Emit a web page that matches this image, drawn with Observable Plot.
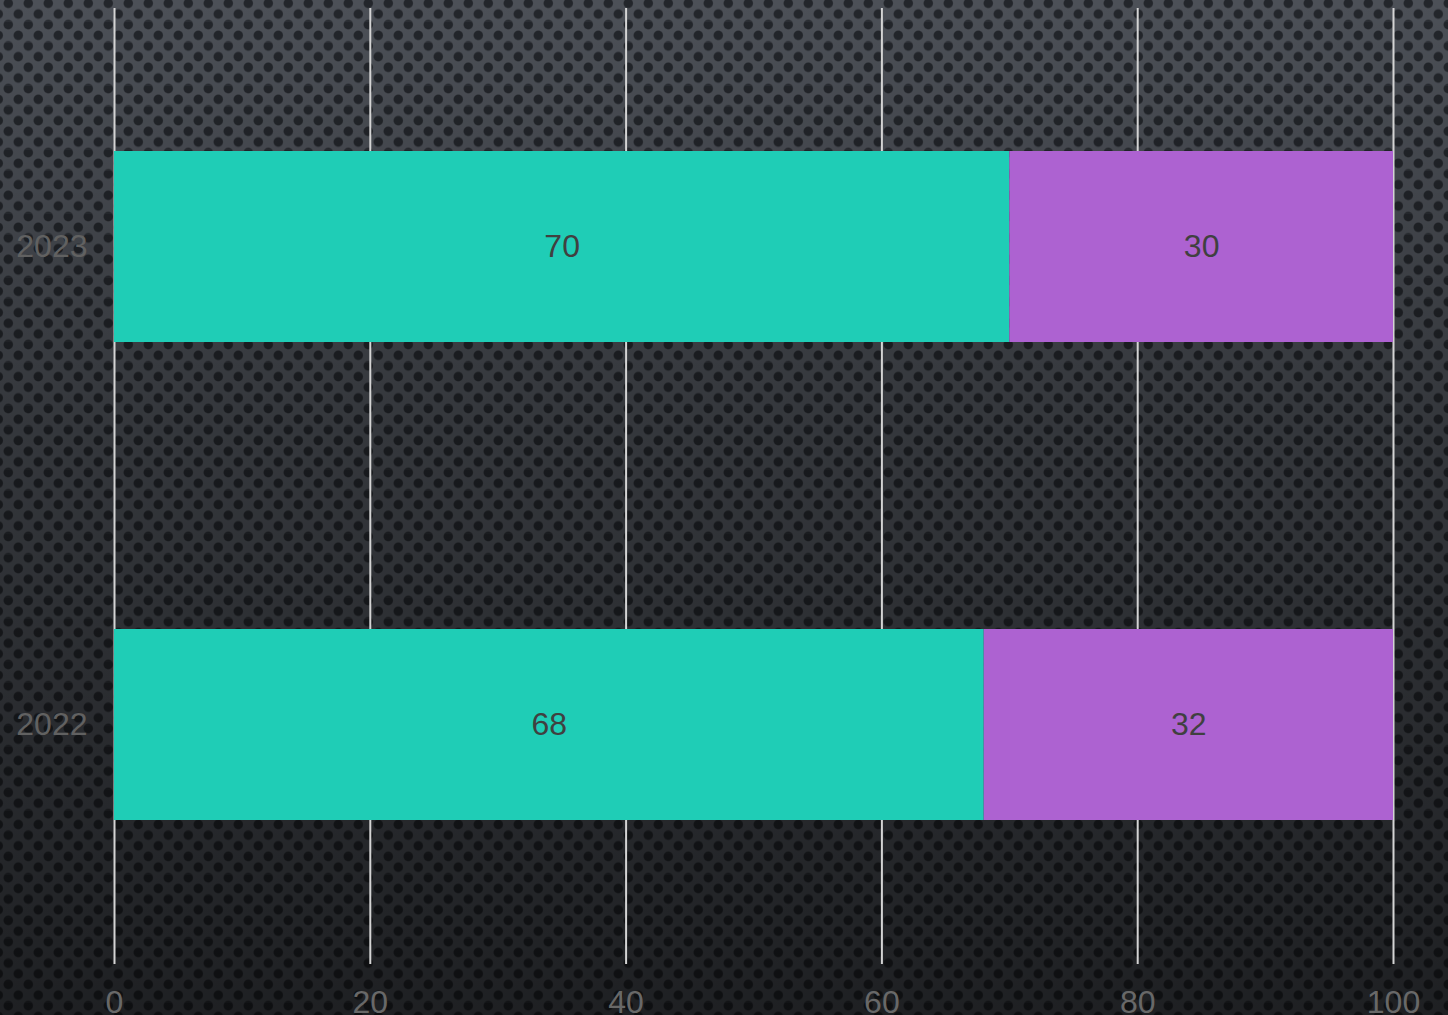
<!DOCTYPE html>
<html>
<head>
<meta charset="utf-8">
<script src="https://cdn.jsdelivr.net/npm/d3@7"></script>
<script src="https://cdn.jsdelivr.net/npm/@observablehq/plot@0.6"></script>
<style>
  html, body { margin: 0; padding: 0; }
  #chart {
    width: 1448px; height: 1015px; position: relative; overflow: hidden;
    background-color: #4c5057;
    background-image:
      linear-gradient(to bottom, rgba(0,0,0,0) 0%, rgba(0,0,0,0.3) 40%, rgba(0,0,0,0.6) 100%),
      radial-gradient(circle at 8.3px 3.3px, #23262b 0, #23262b 4.1px, rgba(35,38,43,0) 5.3px),
      radial-gradient(circle at 18.3px 14px, #23262b 0, #23262b 4.1px, rgba(35,38,43,0) 5.3px),
      radial-gradient(circle at 8.3px 24.6px, #23262b 0, #23262b 4.1px, rgba(35,38,43,0) 5.3px),
      radial-gradient(circle at -1.7px 14px, #23262b 0, #23262b 4.1px, rgba(35,38,43,0) 5.3px);
    background-size: 100% 100%, 20px 21.333px, 20px 21.333px, 20px 21.333px, 20px 21.333px;
    background-repeat: no-repeat, repeat, repeat, repeat, repeat;
  }
</style>
</head>
<body>
<div id="chart"></div>
<script>
const years = ["2023", "2022"];
const seriesNames = ["A", "B"];
const seriesA = [70, 68];
const seriesB = [30, 32];
const xTicks = [0, 20, 40, 60, 80, 100];
const colors = ["#1fcdb6", "#ad62d1"];

const data = [];
years.forEach((y, i) => {
  data.push({year: y, series: seriesNames[0], value: seriesA[i]});
  data.push({year: y, series: seriesNames[1], value: seriesB[i]});
});

const chart = Plot.plot({
  width: 1448,
  height: 1015,
  marginLeft: 114,
  marginRight: 55,
  marginTop: 8,
  marginBottom: 51,
  style: {background: "transparent", fontFamily: "'Liberation Sans', Arial, sans-serif", fontSize: "32px"},
  x: {domain: [0, 100], ticks: xTicks, label: null},
  y: {domain: years, paddingInner: 0.6, paddingOuter: 0.3, label: null},
  color: {domain: seriesNames, range: colors},
  marks: [
    Plot.gridX(xTicks, {stroke: "#d4d4d4", strokeOpacity: 1, strokeWidth: 2}),
    Plot.barX(data, Plot.stackX({x: "value", y: "year", fill: "series", order: seriesNames})),
    Plot.text(data, Plot.stackX({x: "value", y: "year", z: "series", text: d => String(d.value), order: seriesNames, fill: "#404040", fontSize: 32})),
    Plot.axisX(xTicks, {tickSize: 0, tickPadding: 26, color: "#686868", fontSize: 32, label: null}),
    Plot.axisY(years, {tickSize: 0, tickPadding: 27, color: "#616161", fontSize: 32, label: null})
  ]
});
document.getElementById("chart").appendChild(chart);
</script>
</body>
</html>
